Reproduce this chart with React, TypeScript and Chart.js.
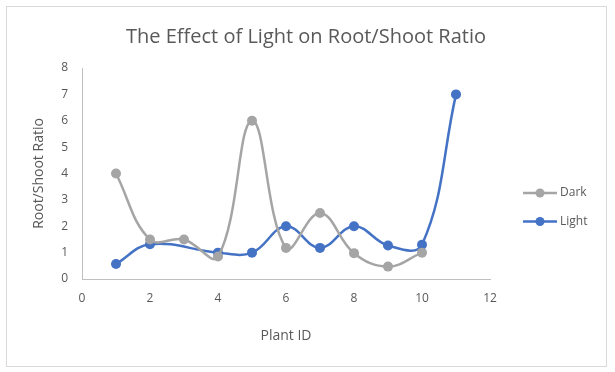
import { useEffect, useRef } from "react";
import { Chart, registerables } from "chart.js";

Chart.register(...registerables);

const titleText = "The Effect of Light on Root/Shoot Ratio";
const xTitle = "Plant ID";
const yTitle = "Root/Shoot Ratio";

const darkLabel = "Dark";
const darkX = [1, 2, 3, 4, 5, 6, 7, 8, 9, 10];
const darkValues = [4, 1.5, 1.5, 0.85, 6, 1.18, 2.5, 0.98, 0.47, 1];

const lightLabel = "Light";
const lightX = [1, 2, 4, 5, 6, 7, 8, 9, 10, 11];
const lightValues = [0.57, 1.32, 1, 1, 2, 1.18, 2, 1.27, 1.3, 7];

const xMin = 0;
const xMax = 12;
const xStep = 2;
const yMin = 0;
const yMax = 8;
const yStep = 1;

const darkColor = "#A5A5A5";
const lightColor = "#4472C4";
const textColor = "#595959";
const FONT = "'Open Sans', sans-serif";

const decorPlugin = {
  id: "decor",
  beforeDraw(chart: any) {
    const ctx = chart.ctx;
    ctx.save();
    ctx.fillStyle = "#ffffff";
    ctx.fillRect(0, 0, chart.width, chart.height);
    ctx.strokeStyle = "#D9D9D9";
    ctx.lineWidth = 1;
    ctx.strokeRect(6.5, 6.5, 600, 360);
    ctx.restore();
  },
  afterDraw(chart: any) {
    const ctx = chart.ctx;
    ctx.save();
    // title
    ctx.fillStyle = textColor;
    ctx.font = `20px ${FONT}`;
    ctx.textAlign = "center";
    ctx.textBaseline = "alphabetic";
    ctx.fillText(titleText, 306, 43);
    // legend
    const items = chart.data.datasets;
    items.forEach((ds: any, i: number) => {
      const y = 193 + i * 28.5;
      ctx.strokeStyle = ds.borderColor;
      ctx.lineWidth = 2.5;
      ctx.beginPath();
      ctx.moveTo(523, y);
      ctx.lineTo(557, y);
      ctx.stroke();
      ctx.fillStyle = ds.borderColor;
      ctx.beginPath();
      ctx.arc(540, y, 4.5, 0, Math.PI * 2);
      ctx.fill();
      ctx.fillStyle = textColor;
      ctx.font = `12px ${FONT}`;
      ctx.textAlign = "left";
      ctx.textBaseline = "middle";
      ctx.fillText(ds.label, 560, y);
    });
    ctx.restore();
  },
};

export default function App() {
  const ref = useRef<HTMLCanvasElement | null>(null);
  useEffect(() => {
    document.body.style.margin = "0";
    if (!ref.current) return;
    const chart = new Chart(ref.current, {
      type: "scatter",
      data: {
        datasets: [
          {
            label: darkLabel,
            data: darkX.map((x, i) => ({ x, y: darkValues[i] })),
            showLine: true,
            borderColor: darkColor,
            backgroundColor: darkColor,
            borderWidth: 2.5,
            pointRadius: 5,
            pointHoverRadius: 5,
            pointBorderWidth: 0,
            tension: 0.4,
          },
          {
            label: lightLabel,
            data: lightX.map((x, i) => ({ x, y: lightValues[i] })),
            showLine: true,
            borderColor: lightColor,
            backgroundColor: lightColor,
            borderWidth: 2.5,
            pointRadius: 5,
            pointHoverRadius: 5,
            pointBorderWidth: 0,
            tension: 0.4,
          },
        ],
      },
      options: {
        animation: false,
        responsive: false,
        layout: { padding: { top: 68, right: 125, left: 0, bottom: 0 } },
        plugins: {
          legend: { display: false },
          title: { display: false },
          tooltip: { enabled: false },
        },
        scales: {
          x: {
            type: "linear",
            min: xMin,
            max: xMax,
            ticks: { stepSize: xStep, color: textColor, font: { family: FONT, size: 12 }, padding: 12 },
            grid: { display: false, drawTicks: false },
            border: { display: true, color: "#BFBFBF", width: 1 },
            title: {
              display: true,
              text: xTitle,
              color: textColor,
              font: { family: FONT, size: 14 },
              padding: { top: 0, bottom: 28 },
            },
            afterFit(scale: any) {
              scale.height = 93;
            },
          },
          y: {
            type: "linear",
            min: yMin,
            max: yMax,
            ticks: { stepSize: yStep, color: textColor, font: { family: FONT, size: 12 }, padding: 14 },
            grid: { display: false, drawTicks: false },
            border: { display: true, color: "#BFBFBF", width: 1 },
            title: {
              display: true,
              text: yTitle,
              color: textColor,
              font: { family: FONT, size: 14 },
              padding: { top: 31, bottom: 0 },
            },
            afterFit(scale: any) {
              scale.width = 82;
            },
          },
        },
      },
      plugins: [decorPlugin],
    });
    return () => chart.destroy();
  }, []);
  return <canvas ref={ref} width={615} height={372} style={{ display: "block" }} />;
}
